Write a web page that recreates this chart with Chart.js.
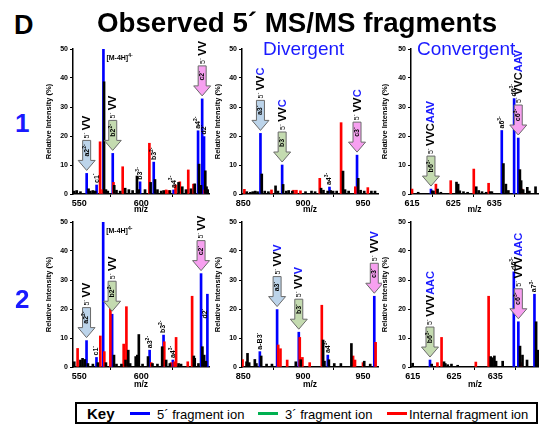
<!DOCTYPE html>
<html>
<head>
<meta charset="utf-8">
<script src="https://cdn.jsdelivr.net/npm/chart.js@4.4.1/dist/chart.umd.min.js"></script>
<style>
body { margin: 0; background: #fff; font-family: "Liberation Sans", Arial, sans-serif; }
#wrap { position: relative; width: 539px; height: 427px; overflow: hidden; }
canvas { position: absolute; }
.t { position: absolute; white-space: nowrap; line-height: 1; }
.blue { color: #1a1aff; }
.key { position: absolute; left: 75px; top: 402px; width: 463px; height: 22px; border: 2px solid #000; box-sizing: border-box; }
.sw { position: absolute; height: 3px; width: 20px; top: 412px; }
</style>
</head>
<body>
<div id="wrap">
  <canvas id="pA" width="178" height="184" style="left:36px;top:38px"></canvas>
  <canvas id="pB" width="177" height="184" style="left:205px;top:38px"></canvas>
  <canvas id="pC" width="164" height="184" style="left:375px;top:38px"></canvas>
  <canvas id="pD" width="178" height="186" style="left:36px;top:211px"></canvas>
  <canvas id="pE" width="177" height="186" style="left:205px;top:211px"></canvas>
  <canvas id="pF" width="164" height="186" style="left:375px;top:211px"></canvas>

  <div class="t" style="left:14px;top:12px;font-weight:bold;font-size:27px">D</div>
  <div class="t" style="left:97px;top:9px;font-weight:bold;font-size:27.7px">Observed 5´ MS/MS fragments</div>
  <div class="t blue" style="left:263px;top:39px;font-size:19px">Divergent</div>
  <div class="t blue" style="left:417px;top:39px;font-size:19px">Convergent</div>
  <div class="t blue" style="left:15px;top:110px;font-weight:bold;font-size:26px">1</div>
  <div class="t blue" style="left:15px;top:286px;font-weight:bold;font-size:26px">2</div>

  <div class="key"></div>
  <div class="t" style="left:87px;top:406px;font-weight:bold;font-size:15px">Key</div>
  <div class="sw" style="left:130px;background:#0000ff"></div>
  <div class="t" style="left:157px;top:408px;font-size:13px">5´ fragment ion</div>
  <div class="sw" style="left:258px;background:#00b050"></div>
  <div class="t" style="left:285px;top:408px;font-size:13px">3´ fragment ion</div>
  <div class="sw" style="left:387px;background:#ff0000"></div>
  <div class="t" style="left:409px;top:408px;font-size:13px">Internal fragment ion</div>
</div>

<script>
// peaks: [m/z, relative intensity %]
const A_blue = [[556,7.1],[564,3.1],[569.5,60],[577,14],[599,4.2],[610,11],[626,1.4],[645.7,21.8],[649,32.8],[650.5,19.8]];
const A_red = [[566.8,18],[568.8,1.5],[577.6,4],[585,9.4],[606.5,17.5],[620,1.4],[622,1.2],[627.6,3.1],[631,4.2],[637.8,8.3],[642,3.4],[651,1.4]];
const A_black = [[546,1],[548,1.2],[551,0.8],[557.5,1.8],[559,1],[561,1.2],[563,1],[570,38.7],[571.5,1.5],[573,1],[578.2,3],[580,1.3],[583,1],[587,2],[590,1.5],[593,1.2],[596.5,6.2],[598,1.5],[603,1.5],[607.5,4],[611,5],[613,1.5],[616,1],[618,1.2],[623,1.2],[630,4],[633,2.5],[636,1.5],[640,1.8],[643,3.5],[646.5,10.3],[648,3],[651.5,8],[652.5,2.5],[653.5,1.5]];

const B_blue = [[864.4,20.9],[882.5,10],[922,2.4],[945,13.4]];
const B_red = [[851,1.6],[873.6,1.4],[892,1.3],[894.4,1.3],[897.8,1.1],[913.9,5.4],[931.7,24.6],[943.6,2.5],[954,2.2]];
const B_black = [[853,0.8],[856,0.6],[858,0.8],[860,1],[862,0.8],[865.5,6.9],[868,1],[871,0.8],[877,2.8],[879,1],[883.3,3.3],[886,1],[888,1.2],[891,1],[902,0.8],[907,1],[910,0.8],[915,2],[917,1.3],[920.5,1],[923,1.2],[925,1],[928,1],[933.3,7.9],[935,1.5],[938,1],[946,5.4],[948,1.3],[951,1],[957,1],[960,1]];

const C_blue = [[619.6,1.7],[636.8,21.9],[639.8,32.9],[640.8,19.3]];
const C_red = [[615,1.7],[620.8,3.4],[624.4,4.6],[630,8.6],[633.6,3.7],[641.7,1.7]];
const C_black = [[616.5,0.6],[619.9,1.1],[620.2,1],[621.2,1.7],[622,0.6],[625.8,4.1],[626.2,3.4],[626.6,1.1],[627.5,0.8],[628.5,0.6],[630.6,2.5],[631.2,1.2],[632,0.8],[633,0.6],[634,0.8],[634.4,0.8],[637.2,10.5],[637.8,3.4],[638.4,1.2],[641.2,8.4],[641.5,4.6],[642,1.5],[643,2.3],[643.5,1],[645,2.5]];

const D_blue = [[555.9,9.1],[563.9,3.3],[569.3,60],[576.5,18.2],[606.7,5.8],[617.9,11],[625.4,2.4],[648.1,32.2],[653.2,25.1]];
const D_red = [[548.7,6.4],[567,10.7],[570.2,5.3],[575.1,20.2],[585.8,7.9],[588,20.8],[608,1.5],[618.5,8.7],[624,1.5],[626.8,1.8],[628,10.2],[637.4,1.8],[640.9,24.4],[649.8,1.3]];
const D_black = [[546,1.8],[551,2.4],[552.7,3],[554.5,2.6],[557,1.2],[561,1],[565,1.5],[571.5,1.5],[578,4.1],[580,1],[584,1],[587.3,2.4],[589.5,5.8],[591,1.2],[595.5,3.6],[596.8,4.1],[598,11.2],[601,1],[605.4,3.6],[609,1.2],[613,1],[616.8,7],[620,2.4],[623,1.2],[630,1.2],[632,1],[642.3,3.8],[643,3],[646,1.2],[649.2,7],[650.6,4.1],[652,2]];

const E_blue = [[863.9,5.3],[878.3,19.8],[896.4,12],[920.6,4.1],[959.4,24.4]];
const E_red = [[849.4,2.6],[879.2,7.6],[881.1,6.3],[886.7,2.4],[897.2,10.2],[899.4,3.3],[905.5,1.5],[915.6,21.3],[941.7,3.8],[943.3,2.4],[950,1.5],[960.5,8.5]];
const E_black = [[852.8,1.8],[853.6,4.7],[855,1.5],[859.7,2.6],[861,1.2],[865,3.8],[869.5,1],[874,1],[893.9,1.8],[898,2.5],[916.7,9.3],[917.8,2],[921.5,2.5],[926,1.2],[931.5,1.2],[940.3,8.1],[951,2],[956,1]];

const F_blue = [[619.2,2.4],[639.5,32.8],[640.6,15.6],[644.5,25.1]];
const F_red = [[621,1.5],[622,10.2],[630.3,1.7],[633.4,24.4],[641.3,1.5]];
const F_black = [[615,1.3],[619.6,1],[622.6,1.8],[622.9,1.2],[623.5,0.8],[624.4,1],[625.9,0.6],[633.9,3.6],[634.3,3.2],[634.8,3.8],[635.2,2],[636.8,2],[641,7.2],[641.6,4.1],[642.7,2.4],[644.9,15.6],[645.4,5.8]];

// arrows: [m/z, peak height, kind, ion, charge]
const A_arrows = [[556,7.1,'a','a2','2-'],[577,14,'b','b2','2-'],[649,32.8,'c','c2','-']];
const B_arrows = [[864.4,20.9,'a','a3','-'],[882.5,10,'b','b3','-'],[945,13.4,'c','c3','-']];
const C_arrows = [[619.6,1.7,'b','b6','3-'],[640.8,19.3,'c','c6','3-']];
const D_arrows = [[555.9,9.1,'a','a2','2-'],[576.5,18.2,'b','b2','2-'],[648.1,32.2,'c','c2','-']];
const E_arrows = [[878.3,19.8,'a','a3','-'],[896.4,12,'b','b3','-'],[959.4,24.4,'c','c3','-']];
const F_arrows = [[619.2,2.4,'b','b6','3-'],[640.6,15.6,'c','c6','3-']];

// small ion labels: [m/z, base height, ion, charge]
const A_ions = [[564,3.1,'c1','-'],[599,4.2,'b3','3-'],[610,11,'b3','2-'],[626,1.4,'a4','3-'],[645.7,21.8,'a4','2-'],[650.5,19.8,'d2','-']];
const B_ions = [[922,2.4,'a4','3-']];
const C_ions = [[636.8,21.9,'a6','3-'],[639.8,32.9,'d6','3-']];
const D_ions = [[563.9,3.3,'c1','-'],[606.7,5.8,'a3','2-'],[617.9,11,'b3','2-'],[625.4,2.4,'a4','3-'],[651,16,'d2','-']];
const E_ions = [[863.9,5.3,'a-B3','-'],[920.6,4.1,'a4','3-']];
const F_ions = [[639.5,32.8,'d6','3-'],[644.5,25.1,'a7','3-']];

const seqA = [['VV', '#000']];
const seqB = [['VV', '#000'], ['C', '#1a1aff']];
const seqC = [['VVC', '#000'], ['AAV', '#1a1aff']];
const seqD = [['VV', '#000']];
const seqE = [['VV', '#000'], ['V', '#1a1aff']];
const seqF = [['VVV', '#000'], ['AAC', '#1a1aff']];

const FF = '"Liberation Sans", Arial, sans-serif';
const FILL = { a: '#bcd4ea', b: '#c4dbb0', c: '#f7a0f0' };

function rotText(ctx, x, y, parts, center) {
    ctx.save();
    ctx.translate(x, y);
    ctx.rotate(-Math.PI / 2);
    ctx.textBaseline = 'middle';
    ctx.textAlign = 'left';
    let total = 0;
    parts.forEach(([t, f]) => { ctx.font = f; total += ctx.measureText(t).width; });
    let pos = center ? -total / 2 : 0;
    parts.forEach(([t, f, c, dy]) => {
        ctx.font = f;
        ctx.fillStyle = c;
        ctx.fillText(t, pos, dy || 0);
        pos += ctx.measureText(t).width;
    });
    ctx.restore();
}

function drawArrow(ctx, x, tip, fill) {
    const sw = 4, hw = 8.5, hh = 10, len = 30;
    ctx.beginPath();
    ctx.moveTo(x - sw, tip - len);
    ctx.lineTo(x + sw, tip - len);
    ctx.lineTo(x + sw, tip - hh);
    ctx.lineTo(x + hw, tip - hh);
    ctx.lineTo(x, tip);
    ctx.lineTo(x - hw, tip - hh);
    ctx.lineTo(x - sw, tip - hh);
    ctx.closePath();
    ctx.fillStyle = fill;
    ctx.fill();
    ctx.strokeStyle = '#6a6a6a';
    ctx.lineWidth = 1;
    ctx.stroke();
}

function makeAnnot(p) {
    return {
        id: 'annot',
        afterDatasetsDraw(chart) {
            const ctx = chart.ctx, xs = chart.scales.x, ys = chart.scales.y;
            p.ions.forEach(([mz, base, ion, ch]) => {
                rotText(ctx, xs.getPixelForValue(mz), ys.getPixelForValue(base) - 2,
                    [[ion, 'bold 7px ' + FF, '#000', 0], [ch, 'bold 5px ' + FF, '#000', -2.5]]);
            });
            p.arrows.forEach(([mz, top, kind, ion, ch]) => {
                const x = xs.getPixelForValue(mz), tip = ys.getPixelForValue(top) - 3;
                drawArrow(ctx, x, tip, FILL[kind]);
                rotText(ctx, x, tip - 20,
                    [[ion, 'bold 7px ' + FF, '#000', 0], [ch, 'bold 5px ' + FF, '#000', -2.5]], true);
                const parts = [['5´ ', '7px ' + FF, '#000', 0]]
                    .concat(p.seq.map(([s, c]) => [s, 'bold 11px ' + FF, c, 0]));
                rotText(ctx, x + 0.5, tip - 32, parts);
            });
            if (p.mion) {
                const x = xs.getPixelForValue(p.mion) + 3, y = chart.chartArea.top + 9;
                ctx.save();
                ctx.textBaseline = 'middle';
                ctx.fillStyle = '#000';
                ctx.font = 'bold 7px ' + FF;
                ctx.fillText('[M-4H]', x, y);
                const w = ctx.measureText('[M-4H]').width;
                ctx.font = 'bold 5px ' + FF;
                ctx.fillText('4-', x + w, y - 2.5);
                ctx.restore();
            }
        }
    };
}

const panels = [
    { id: 'pA', rect: [36, 38, 178, 184], area: [73, 49, 209, 194], xr: [545, 654.5], xt: [550, 600], tp: 8.5,
      blue: A_blue, red: A_red, black: A_black, arrows: A_arrows, ions: A_ions, seq: seqA, mion: 569.5 },
    { id: 'pB', rect: [205, 38, 177, 184], area: [242, 49, 378, 194], xr: [849, 962.5], xt: [850, 900, 950], tp: 8.5,
      blue: B_blue, red: B_red, black: B_black, arrows: B_arrows, ions: B_ions, seq: seqB },
    { id: 'pC', rect: [375, 38, 164, 184], area: [411, 49, 538, 194], xr: [614.75, 645.6], xt: [615, 625, 635], tp: 5.5,
      blue: C_blue, red: C_red, black: C_black, arrows: C_arrows, ions: C_ions, seq: seqC },
    { id: 'pD', rect: [36, 211, 178, 186], area: [73, 222, 209, 367], xr: [545, 654.5], xt: [550, 600], tp: 8.5,
      blue: D_blue, red: D_red, black: D_black, arrows: D_arrows, ions: D_ions, seq: seqD, mion: 569.3 },
    { id: 'pE', rect: [205, 211, 177, 186], area: [242, 222, 378, 367], xr: [849, 962.5], xt: [850, 900, 950], tp: 8.5,
      blue: E_blue, red: E_red, black: E_black, arrows: E_arrows, ions: E_ions, seq: seqE },
    { id: 'pF', rect: [375, 211, 164, 186], area: [411, 222, 539, 367], xr: [614.6, 645.6], xt: [615, 625, 635], tp: 5.5,
      blue: F_blue, red: F_red, black: F_black, arrows: F_arrows, ions: F_ions, seq: seqF }
];

const toXY = (arr) => arr.map(([x, y]) => ({ x, y }));

panels.forEach((p) => {
    const [cl, ct, cw, ch] = p.rect;
    const [al, at, ar, ab] = p.area;
    const yWidth = al - cl, xHeight = ct + ch - ab;
    const bar = (data, color) => ({ data: toXY(data), backgroundColor: color, barThickness: 2, grouped: false });

    new Chart(document.getElementById(p.id), {
        type: 'bar',
        data: {
            datasets: [bar(p.black, '#000000'), bar(p.red, '#ff0000'), bar(p.blue, '#0000ff')]
        },
        options: {
            responsive: false,
            animation: false,
            events: [],
            layout: { padding: { top: at - ct, right: cl + cw - ar, left: 0, bottom: 0 } },
            plugins: { legend: { display: false }, tooltip: { enabled: false } },
            scales: {
                x: {
                    type: 'linear',
                    min: p.xr[0],
                    max: p.xr[1],
                    offset: false,
                    afterBuildTicks: (s) => { s.ticks = p.xt.map((v) => ({ value: v })); },
                    afterFit: (s) => { s.height = xHeight; },
                    ticks: { color: '#000', font: { family: FF, size: 9, weight: 'bold' }, padding: 1, maxRotation: 0, autoSkip: false },
                    grid: { drawOnChartArea: false, color: '#000', tickLength: 3 },
                    border: { color: '#000', width: 1.5 },
                    title: { display: true, text: 'm/z', color: '#000', font: { family: FF, size: 8.5, weight: 'bold' }, padding: { top: 0, bottom: 6.9 } }
                },
                y: {
                    min: 0,
                    max: 50,
                    afterBuildTicks: (s) => { s.ticks = [0, 10, 20, 30, 40, 50].map((v) => ({ value: v })); },
                    afterFit: (s) => { s.width = yWidth; },
                    ticks: { color: '#000', font: { family: FF, size: 7, weight: 'bold' }, padding: 2 },
                    grid: { drawOnChartArea: false, color: '#000', tickLength: 3 },
                    border: { color: '#000', width: 1.5 },
                    title: { display: true, text: 'Relative Intensity (%)', color: '#000', font: { family: FF, size: 7.5, weight: 'bold' }, padding: { top: p.tp, bottom: 0 } }
                }
            }
        },
        plugins: [makeAnnot(p)]
    });
});
</script>
</body>
</html>
